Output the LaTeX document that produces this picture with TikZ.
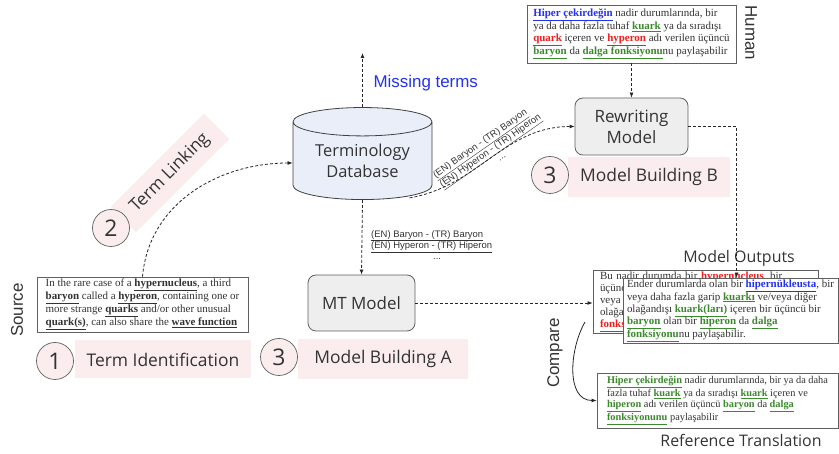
\documentclass[tikz,border=0pt]{standalone}
\usepackage{fontspec}
\setmainfont{Liberation Serif}
\newfontfamily\labelfont{Open Sans}
\newfontfamily\plainfont{Liberation Sans}
\usepackage{xcolor}
\usetikzlibrary{shapes.geometric, arrows.meta, calc}

\definecolor{termgreen}{HTML}{3C8A2E}
\definecolor{termblue}{HTML}{2431F0}
\definecolor{termred}{HTML}{F01E1E}
\definecolor{stagepink}{HTML}{FBEDED}
\definecolor{modelgray}{HTML}{EEEEEE}
\definecolor{dbblue}{HTML}{E9EEF9}
\definecolor{linegray}{HTML}{606060}
\definecolor{txtgray}{HTML}{333333}

\newcommand{\gterm}[1]{\textcolor{termgreen}{\underline{\textbf{#1}}}}
\newcommand{\bterm}[1]{\textcolor{termblue}{\underline{\textbf{#1}}}}
\newcommand{\rterm}[1]{\textcolor{termred}{\underline{\textbf{#1}}}}
\newcommand{\kterm}[1]{\underline{\textbf{#1}}}

\begin{document}
\begin{tikzpicture}[
    x=1bp, y=1bp,
    every node/.style={text=txtgray},
    dasharrow/.style={draw=black!85, dash pattern=on 3bp off 2bp, line width=0.8bp,
      -{Latex[length=5bp, width=4bp]}},
    modelbox/.style={draw=linegray, fill=modelgray, rounded corners=8bp, line width=0.8bp,
      align=center, font=\labelfont\fontsize{17}{21}\selectfont},
    numcircle/.style={circle, draw=linegray, fill=stagepink, minimum size=37bp, inner sep=0pt,
      line width=0.7bp, font=\labelfont\fontsize{23}{25}\selectfont},
    stagebox/.style={fill=stagepink, inner sep=0pt, font=\labelfont\fontsize{17.5}{20}\selectfont},
    textbox/.style={draw=linegray, fill=white, line width=0.8bp, align=left, inner ysep=0pt,
      inner xsep=4bp, font=\fontsize{11}{12}\selectfont},
    sidelabel/.style={font=\plainfont\fontsize{17}{20}\selectfont},
    outlabel/.style={font=\labelfont\fontsize{16}{19}\selectfont},
    pairlabel/.style={font=\plainfont\fontsize{9.5}{11.5}\selectfont, align=left, inner sep=0pt},
  ]
  \useasboundingbox (0,0) rectangle (839,454);

  % 术语库
  \node[cylinder, shape border rotate=90, aspect=0.28, draw=black!75, fill=dbblue,
    line width=0.8bp, minimum width=139bp, minimum height=92bp,
    font=\labelfont\fontsize{16.5}{21}\selectfont] (db) at (362.5, 291)
    {\raisebox{-9bp}{\begin{tabular}{@{}c@{}}Terminology\\Database\end{tabular}}};
  \coordinate (miss) at (362.5, 401);
  \node[sidelabel, text=termblue, anchor=west] (missing) at (370, 371) {Missing terms};

  % 模型
  \node[modelbox, minimum width=107bp, minimum height=56bp] (mt) at (361.5, 151) {MT Model};
  \node[modelbox, minimum width=113bp, minimum height=57bp] (rw) at (631.5, 327.5) {Rewriting\\Model};

  % 人工改写
  \node[textbox, minimum width=209bp, minimum height=58bp] (human) at (631.5, 420)
    {\bterm{Hiper çekirdeğin} nadir durumlarında, bir\\
     ya da daha fazla tuhaf \gterm{kuark} ya da sıradışı\\
     \rterm{quark} içeren ve \rterm{hyperon} adı verilen üçüncü\\
     \gterm{baryon} da \gterm{dalga fonksiyonu}nu paylaşabilir};
  \node[sidelabel, rotate=-90] (humanlbl) at (751, 421) {Human};

  % 源文本
  \node[textbox, minimum width=211bp, minimum height=55bp] (src) at (142.5, 149.5)
    {In the rare case of a \kterm{hypernucleus}, a third\\
     \kterm{baryon} called a \kterm{hyperon}, containing one or\\
     more strange \kterm{quarks} and/or other unusual\\
     \kterm{quark(s)}, can also share the \kterm{wave function}};
  \node[sidelabel, rotate=90] (srclbl) at (17, 144) {Source};

  % 模型输出（两层）
  \node[textbox, inner xsep=7bp, text width=211bp, minimum height=63bp] (mtout) at (705.5, 152.5)
    {Bu nadir durumda bir \rterm{hypernucleus}, bir\\
     üçüncü\\
     veya\\
     olağandışı\\
     \rterm{fonksiyonu}};
  \node[textbox, minimum width=215bp, minimum height=65bp] (rwout) at (730.5, 143.5)
    {Ender durumlarda olan bir \bterm{hipernükleusta}, bir\\
     veya daha fazla garip \gterm{kuarkı} ve/veya diğer\\
     olağandışı \gterm{kuark(ları)} içeren bir üçüncü bir\\
     \gterm{baryon} olan bir \gterm{hiperon} da \gterm{dalga}\\
     \gterm{fonksiyonu}nu paylaşabilir.};
  \node[outlabel] (outlbl) at (739, 196) {Model Outputs};

  % 参考译文
  \node[textbox, minimum width=241bp, minimum height=55bp,
    font=\fontsize{10.4}{11.5}\selectfont] (ref) at (717.5, 53.5)
    {\gterm{Hiper çekirdeğin} nadir durumlarında, bir ya da daha\\
     fazla tuhaf \gterm{kuark} ya da sıradışı \gterm{kuark} içeren ve\\
     \gterm{hiperon} adı verilen üçüncü \gterm{baryon} da \gterm{dalga}\\
     \gterm{fonksiyonunu} paylaşabilir};
  \node[outlabel] (reflbl) at (741, 14) {Reference Translation};
  \node[sidelabel, rotate=90] (cmplbl) at (555, 101) {Compare};

  % 阶段标签
  \node[stagebox, minimum width=175bp, minimum height=38bp] (stage1) at (163, 94.5) {Term Identification};
  \node[numcircle] (num1) at (55, 93) {1};
  \node[stagebox, minimum width=132bp, minimum height=36bp, rotate=45] (stage2) at (170, 281) {Term Linking};
  \node[numcircle] (num2) at (111, 226) {2};
  \node[stagebox, minimum width=170bp, minimum height=40bp] (stageA) at (383, 95) {Model Building A};
  \node[numcircle] (numA) at (279, 97) {3};
  \node[stagebox, minimum width=162bp, minimum height=40bp] (stageB) at (649, 277) {Model Building B};
  \node[numcircle] (numB) at (550, 279) {3};

  % 术语对
  \node[pairlabel, anchor=north west] (pairs) at (371, 224)
    {\underline{(EN) Baryon - (TR) Baryon}\\
     \underline{(EN) Hyperon - (TR) Hiperon}\\
     \hspace*{62bp}...};
  \node[pairlabel, rotate=35] (pairsrot) at (490, 304)
    {\underline{(EN) Baryon - (TR) Baryon}\\
     \underline{(EN) Hyperon - (TR) Hiperon}\\
     \hspace*{62bp}...};

  % 连线
  \draw[dasharrow] (db.north) -- (miss);
  \draw[dasharrow] (db.south) -- (mt.north);
  \draw[dasharrow] (src.north) to[out=85, in=180] (db.west);
  \draw[dasharrow] ($(db.south)+(47,2)$) to[out=10, in=180] (rw.west);
  \draw[dasharrow] (human.south) -- (rw.north);
  \draw[dasharrow] (mt.east) -- (mt.east -| mtout.west);
  \draw[dasharrow] (rw.east) -| ($(rwout.north west)+(114,0)$);

  % 比较
  \coordinate (cmp) at (585, 132);
  \draw[black!85, line width=0.8bp, -{Latex[length=5bp, width=4bp]}] (cmp) to[out=240, in=180] (ref.west);
\end{tikzpicture}
\end{document}
